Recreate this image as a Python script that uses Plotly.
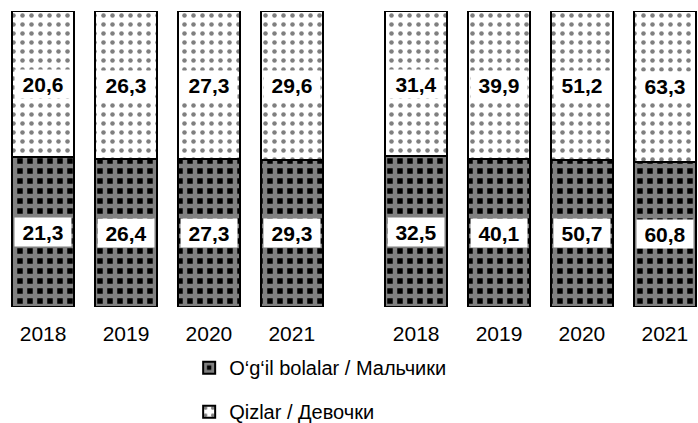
import plotly.graph_objects as go

years = ["2018", "2019", "2020", "2021"]
tick_labels = years + years
boys = [21.3, 26.4, 27.3, 29.3, 32.5, 40.1, 50.7, 60.8]
girls = [20.6, 26.3, 27.3, 29.6, 31.4, 39.9, 51.2, 63.3]

# two groups of four bars, a wider gap between them
xpos = [0, 1, 2, 3, 4.5, 5.5, 6.5, 7.5]

font = "Liberation Sans, Arial, sans-serif"

fig = go.Figure()
fig.add_trace(go.Bar(
    x=xpos, y=boys, name="O\u2018g\u2018il bolalar / Мальчики",
    legendgroup="boys", width=0.75,
    marker=dict(color="white",
                line=dict(color="black", width=2),
                pattern=dict(shape="+", fgcolor="white", bgcolor="black",
                             size=10, solidity=0.7)),
))
fig.add_trace(go.Bar(
    x=xpos, y=girls, name="Qizlar / Девочки",
    legendgroup="girls", width=0.75,
    marker=dict(color="white",
                line=dict(color="black", width=2),
                pattern=dict(shape=".", fgcolor="black", bgcolor="white",
                             size=9, solidity=0.2)),
))

# value labels in white boxes, centred in each segment
for x, b, g in zip(xpos, boys, girls):
    tot = b + g
    pb = b / tot * 100
    pg = g / tot * 100
    for val, yc in ((b, pb / 2), (g, pb + pg / 2)):
        fig.add_annotation(
            x=x, y=yc, text="<b>%s</b>" % ("%.1f" % val).replace(".", ","),
            showarrow=False, bgcolor="white", width=54, height=26,
            font=dict(family=font, size=21, color="black"),
        )

fig.update_layout(
    width=698, height=423,
    barmode="stack", barnorm="percent",
    margin=dict(l=0, r=0, t=11, b=116),
    paper_bgcolor="white", plot_bgcolor="white",
    font=dict(family=font, color="black"),
    xaxis=dict(range=[-0.52, 7.9], tickvals=xpos, ticktext=tick_labels,
               showgrid=False, zeroline=False, showline=False,
               ticklabelstandoff=12, tickfont=dict(size=21)),
    yaxis=dict(range=[0, 100], visible=False),
    legend=dict(x=0.271, y=0.177, xanchor="left", yanchor="top",
                yref="container",
                traceorder="grouped", tracegroupgap=15,
                font=dict(size=20, color="black")),
)

fig.write_html("out.html", config={"displayModeBar": False},
               post_script="document.body.style.margin='0';")
